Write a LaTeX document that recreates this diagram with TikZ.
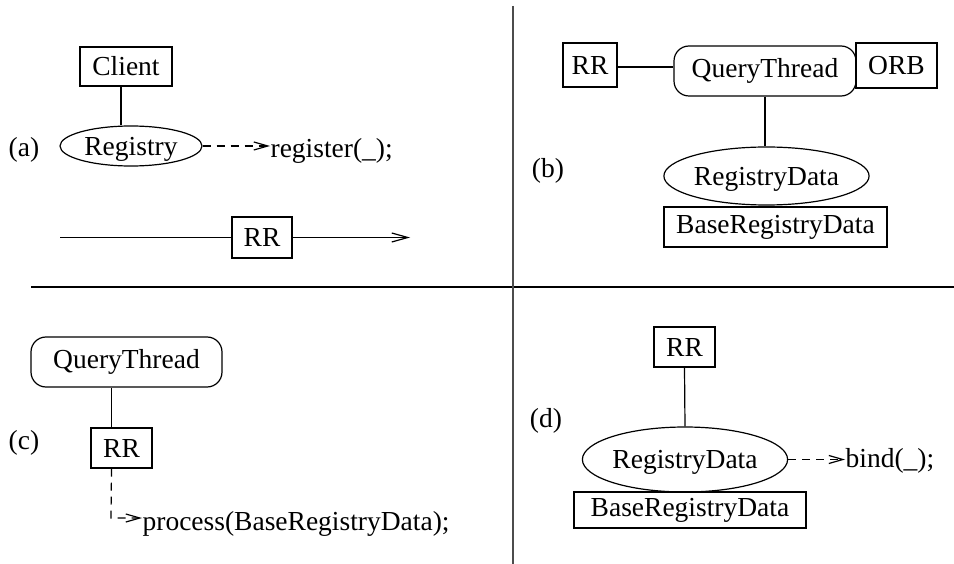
\documentclass[tikz,border=0pt]{standalone}
\usepackage{fontspec}
\setmainfont{LiberationSerif}[Extension=.ttf,UprightFont=*-Regular,BoldFont=*-Bold,ItalicFont=*-Italic]
\usetikzlibrary{shapes.geometric,arrows.meta}
\begin{document}
\begin{tikzpicture}[x=1pt,y=-1pt,line width=1.2pt,
  every node/.style={font=\rmfamily\fontsize{27.5}{33}\selectfont,inner sep=0pt},
  cls/.style={draw,rectangle,minimum width=#1},
  objbox/.style={draw,rectangle,rounded corners=15pt},
  obj/.style={draw,ellipse,text depth=0pt},
  plain/.style={},
  msg/.style={dashed,dash pattern=on 8pt off 6pt,-{Straight Barb[length=14pt,width=8pt,line width=1.2pt]}},
  flow/.style={-{Straight Barb[length=16pt,width=9pt,line width=1.2pt]}},
  divider/.style={line width=1.4pt}]
\useasboundingbox (0,0) rectangle (954,564);

% quadrant dividers
\draw[divider] (31,287) -- (954,287);
\draw[divider,black!70] (513,6) -- (513,564);

% ---- (a) ----
\node[plain] (la) at (24,150) {(a)};
\node[cls=92pt,minimum height=39pt] (client) at (126,66.5) {Client};
\node[obj,minimum width=142pt,minimum height=40pt] (registry) at (131,146) {Registry};
\node[plain,anchor=base west] (reg) at (270,158) {register(\_);};
\draw ([xshift=-5pt]client.south) -- ([xshift=-5pt]client.south |- registry.north);
\draw[msg] (registry.east) -- (registry.east -| reg.west);
\node[cls=60pt,minimum height=41pt] (rra) at (262,237.5) {RR};
\coordinate (ain) at (60,237.5);
\coordinate (aout) at (410,237.5);
\draw (ain) -- (rra.west);
\draw[flow] (rra.east) -- (aout);

% ---- (b) ----
\node[plain] (lb) at (548,171) {(b)};
\node[cls=54pt,minimum height=44pt] (rrb) at (590,65) {RR};
\node[objbox,minimum width=182pt,minimum height=50pt] (qtb) at (765,71) {QueryThread};
\node[cls=81pt,minimum height=45pt] (orb) at (896.5,65.5) {ORB};
\node[obj,minimum width=183pt,minimum height=58pt] (rdb) at (766.5,176) {RegistryData};
\node[cls=223pt,minimum height=40pt] (brdb) at (775.5,227) {BaseRegistryData};
\draw ([yshift=-2pt]rrb.east) -- ([yshift=-2pt]rrb.east -| qtb.west);
\draw (qtb.south) -- (qtb.south |- rdb.north);

% ---- (c) ----
\node[plain] (lc) at (24,443) {(c)};
\node[objbox,minimum width=191pt,minimum height=50pt] (qtc) at (126.5,362) {QueryThread};
\node[cls=61pt,minimum height=40pt] (rrc) at (121.5,448) {RR};
\node[plain,anchor=base west] (proc) at (142,530) {process(BaseRegistryData);};
\draw ([xshift=-10pt]rrc.north) -- ([xshift=-10pt]rrc.north |- qtc.south);
\coordinate (cbend) at (111,518);
\draw[msg] ([xshift=-10pt]rrc.south) -- (cbend) -- (cbend -| proc.west);

% ---- (d) ----
\node[plain] (ld) at (546,421) {(d)};
\node[cls=61pt,minimum height=40pt] (rrd) at (684.5,347) {RR};
\node[obj,minimum width=204pt,minimum height=65pt] (rdd) at (685,459.5) {RegistryData};
\node[cls=232pt,minimum height=36pt] (brdd) at (690,510) {BaseRegistryData};
\node[plain,anchor=base west] (bind) at (845,467) {bind(\_);};
\draw (rrd.south) -- (rdd.north);
\draw[msg] (rdd.east) -- (rdd.east -| bind.west);
\end{tikzpicture}
\end{document}
